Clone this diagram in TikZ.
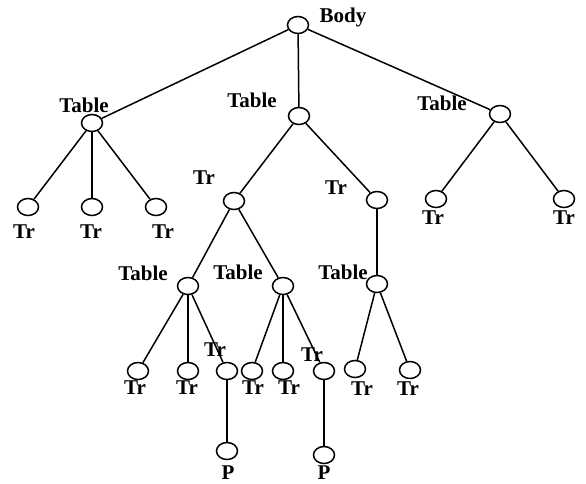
\documentclass[tikz,border=0pt]{standalone}
\usepackage{fontspec}
\setmainfont{Liberation Serif}
\usetikzlibrary{shapes.geometric}
\begin{document}
\begin{tikzpicture}[x=1pt,y=-1pt,
  nd/.style={draw,ellipse,line width=1.5pt,minimum width=21pt,minimum height=17pt,inner sep=0pt},
  lb/.style={font=\bfseries\fontsize{21}{21}\selectfont,inner sep=0pt,anchor=center},
  edge/.style={line width=1.5pt}]
\useasboundingbox (0,0) rectangle (586,483);
% nodes
\node[nd] (body) at (298,25) {};
\node[nd] (tL) at (92,123) {};
\node[nd] (tM) at (299,116) {};
\node[nd] (tR) at (500,114) {};
\node[nd] (trL1) at (28,207) {};
\node[nd] (trL2) at (92,207) {};
\node[nd] (trL3) at (156,207) {};
\node[nd] (trM1) at (234,201) {};
\node[nd] (trM2) at (377,200) {};
\node[nd] (trR1) at (436,199) {};
\node[nd] (trR2) at (564,199) {};
\node[nd] (tA) at (188,286) {};
\node[nd] (tB) at (283,286) {};
\node[nd] (tC) at (377,284) {};
\node[nd] (a1) at (138,371) {};
\node[nd] (a2) at (188,371) {};
\node[nd] (a3) at (227,371) {};
\node[nd] (b1) at (252,371) {};
\node[nd] (b2) at (283,371) {};
\node[nd] (b3) at (324,371) {};
\node[nd] (c1) at (355,369) {};
\node[nd] (c2) at (410,370) {};
\node[nd] (p1) at (227,451) {};
\node[nd] (p2) at (324,455) {};
% edges
\draw[edge] (body) -- (tL);
\draw[edge] (body) -- (tM);
\draw[edge] (body) -- (tR);
\draw[edge] (tL) -- (trL1);
\draw[edge] (tL) -- (trL2);
\draw[edge] (tL) -- (trL3);
\draw[edge] (tM) -- (trM1);
\draw[edge] (tM) -- (trM2);
\draw[edge] (tR) -- (trR1);
\draw[edge] (tR) -- (trR2);
\draw[edge] (trM1) -- (tA);
\draw[edge] (trM1) -- (tB);
\draw[edge] (trM2) -- (tC);
\draw[edge] (tA) -- (a1);
\draw[edge] (tA) -- (a2);
\draw[edge] (tA) -- (a3);
\draw[edge] (tB) -- (b1);
\draw[edge] (tB) -- (b2);
\draw[edge] (tB) -- (b3);
\draw[edge] (tC) -- (c1);
\draw[edge] (tC) -- (c2);
\draw[edge] (a3) -- (p1);
\draw[edge] (b3) -- (p2);
% labels
\node[lb] (lbody) at (343,17) {Body};
\node[lb] (ltL) at (84,105) {Table};
\node[lb] (ltM) at (252,100) {Table};
\node[lb] (ltR) at (442,103) {Table};
\node[lb] (ltrL1) at (24,232) {Tr};
\node[lb] (ltrL2) at (91,232) {Tr};
\node[lb] (ltrL3) at (163,232) {Tr};
\node[lb] (ltrM1) at (204,178) {Tr};
\node[lb] (ltrM2) at (336,188) {Tr};
\node[lb] (ltrR1) at (433,218) {Tr};
\node[lb] (ltrR2) at (564,218) {Tr};
\node[lb] (ltA) at (143,273) {Table};
\node[lb] (ltB) at (238,272) {Table};
\node[lb] (ltC) at (343,272) {Table};
\node[lb] (la1) at (135,388) {Tr};
\node[lb] (la2) at (187,388) {Tr};
\node[lb] (la3) at (215,350) {Tr};
\node[lb] (lb1) at (253,388) {Tr};
\node[lb] (lb2) at (289,388) {Tr};
\node[lb] (lb3) at (312,355) {Tr};
\node[lb] (lc1) at (362,389) {Tr};
\node[lb] (lc2) at (408,389) {Tr};
\node[lb] (lp1) at (228,473) {P};
\node[lb] (lp2) at (324,473) {P};
\end{tikzpicture}
\end{document}
